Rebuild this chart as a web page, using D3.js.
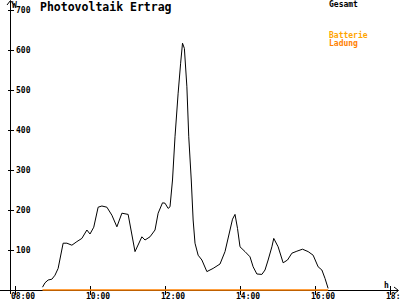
<!DOCTYPE html>
<html><head><meta charset="utf-8">
<script src="https://cdn.jsdelivr.net/npm/d3@7"></script>
<style>
html,body{margin:0;padding:0;background:#fff;}
svg{display:block;}
text{font-family:"DejaVu Sans Mono","Liberation Mono",monospace;}
</style></head>
<body>
<script>
const title = "Photovoltaik Ertrag";
const legendLabels = ["Gesamt", "Batterie", "Ladung"];
const legendColors = ["#000000", "#ffa500", "#ff8000"];
const yTicks = [100, 200, 300, 400, 500, 600, 700];
const xTickLabels = ["08:00", "10:00", "12:00", "14:00", "16:00", "18:00"];
const gesamtTimes = ["08:44","08:48","08:53","08:59","09:04","09:09","09:17","09:23","09:31","09:39","09:47","09:55","10:00","10:06","10:13","10:19","10:27","10:35","10:43","10:51","11:01","11:12","11:23","11:28","11:36","11:44","11:49","11:56","12:00","12:05","12:08","12:12","12:16","12:21","12:25","12:28","12:31","12:35","12:38","12:42","12:45","12:48","12:53","12:59","13:07","13:17","13:28","13:36","13:44","13:48","13:52","13:56","14:00","14:08","14:16","14:21","14:27","14:35","14:40","14:45","14:51","14:54","15:01","15:09","15:16","15:23","15:31","15:40","15:49","15:57","16:05","16:11","16:16","16:21"];
const gesamtValues = [7,18,25,27,37,54,117,117,112,121,129,150,140,157,207,210,207,187,158,192,189,96,133,125,133,150,192,218,217,204,208,275,383,492,567,617,604,508,383,275,175,117,87,75,46,54,65,96,150,177,189,154,108,96,83,58,40,39,50,75,108,129,108,68,75,92,97,102,96,87,58,50,29,4];
const ladungTimes = ["08:44","16:21"];
const ladungValues = [0,0];

const W = 400, H = 300;
const toMin = s => { const [h,m] = s.split(":").map(Number); return h*60+m; };
const svg = d3.select("body").append("svg").attr("width", W).attr("height", H);
const x = d3.scaleLinear().domain([480, 1080]).range([15, 390]);
const y = d3.scaleLinear().domain([0, 700]).range([290, 10]);

// axes
const ax = svg.append("g").attr("shape-rendering","crispEdges").attr("stroke","#000");
ax.append("line").attr("x1",0).attr("x2",398).attr("y1",y(0)+0.5).attr("y2",y(0)+0.5);
ax.append("line").attr("x1",10.5).attr("x2",10.5).attr("y1",1).attr("y2",294);
// arrows
svg.append("path").attr("d","M7,5 L10.5,0.5 L14,5").attr("fill","none").attr("stroke","#000");
svg.append("path").attr("d","M394,287 L398.5,290.5 L394,294").attr("fill","none").attr("stroke","#000");

// y ticks
const yt = svg.append("g");
yt.selectAll("line").data(yTicks).join("line")
  .attr("x1",8).attr("x2",14).attr("y1",d=>Math.round(y(d))+0.5).attr("y2",d=>Math.round(y(d))+0.5)
  .attr("stroke","#000").attr("shape-rendering","crispEdges");
yt.selectAll("text").data(yTicks).join("text")
  .attr("x",16).attr("y",d=>y(d)+3).attr("font-size","8px").attr("font-weight","bold").attr("fill","#000").text(d=>d);

// x ticks
const xt = svg.append("g");
xt.selectAll("line").data(xTickLabels).join("line")
  .attr("x1",d=>Math.round(x(toMin(d)))+0.5).attr("x2",d=>Math.round(x(toMin(d)))+0.5)
  .attr("y1",286).attr("y2",295).attr("stroke","#000").attr("shape-rendering","crispEdges");
xt.selectAll("text").data(xTickLabels).join("text")
  .attr("x",d=>x(toMin(d))-4).attr("y",298.5).attr("font-size","8px").attr("font-weight","bold").attr("fill","#000").text(d=>d);

svg.append("text").attr("x",12).attr("y",8).attr("font-size","8px").attr("font-weight","bold").text("W");
svg.append("text").attr("x",384).attr("y",288).attr("font-size","8px").attr("font-weight","bold").text("h");

// title
svg.append("text").attr("x",40).attr("y",11).attr("font-size","11.5px").attr("font-weight","bold").text(title);

// legend
const legY = [7, 38, 46];
svg.selectAll("text.leg").data(legendLabels).join("text").attr("class","leg")
  .attr("x",329).attr("y",(d,i)=>legY[i]).attr("font-size","8px").attr("font-weight","bold")
  .attr("fill",(d,i)=>legendColors[i]).text(d=>d);

// ladung line
const line = d3.line().x(d=>x(d[0])).y(d=>y(d[1]));
svg.append("path").datum(ladungTimes.map((t,i)=>[toMin(t), ladungValues[i]]))
  .attr("d", line).attr("fill","none").attr("stroke",legendColors[2]).attr("stroke-width",1.5);

// gesamt line
svg.append("path").datum(gesamtTimes.map((t,i)=>[toMin(t), gesamtValues[i]]))
  .attr("d", line).attr("fill","none").attr("stroke","#000").attr("stroke-width",1);
</script>
</body></html>
